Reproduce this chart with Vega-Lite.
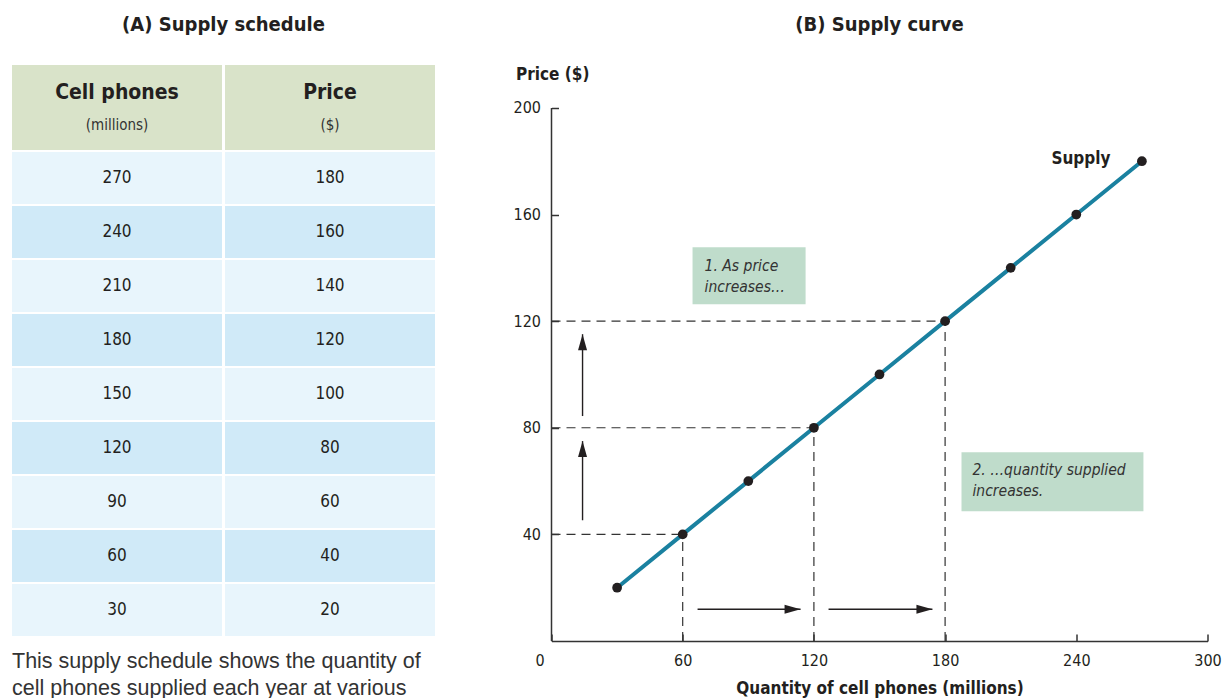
{
  "$schema": "https://vega.github.io/schema/vega-lite/v6.json",
  "background": "white",
  "padding": {"left": 12, "top": 15, "right": 0, "bottom": 0},
  "spacing": 77.5,
  "config": {
    "view": {"stroke": null},
    "font": "DejaVu Sans Condensed, DejaVu Sans, sans-serif",
    "title": {"fontSize": 20, "fontWeight": "bold", "color": "#231f20", "font": "DejaVu Sans Condensed, DejaVu Sans, sans-serif"},
    "text": {"color": "#231f20"}
  },
  "hconcat": [
    {
      "spacing": 2,
      "vconcat": [
        {
          "width": 423,
          "height": 85,
          "title": {"text": "(A) Supply schedule", "offset": 30},
          "data": {"values": [
            {"column": "Cell phones", "unit": "(millions)"},
            {"column": "Price", "unit": "($)"}
          ]},
          "encoding": {
            "x": {"field": "column", "type": "nominal", "sort": null, "axis": null,
                  "scale": {"paddingInner": 0.014, "paddingOuter": 0}}
          },
          "layer": [
            {"mark": {"type": "rect", "color": "#d9e3c9"}},
            {"mark": {"type": "text", "fontSize": 21, "fontWeight": "bold", "dy": -15},
             "encoding": {"text": {"field": "column"}}},
            {"mark": {"type": "text", "fontSize": 15, "dy": 17, "color": "#333333"},
             "encoding": {"text": {"field": "unit"}}}
          ]
        },
        {
          "width": 423,
          "height": 484,
          "title": {
            "text": ["This supply schedule shows the quantity of", "cell phones supplied each year at various"],
            "orient": "bottom", "anchor": "start", "frame": "group", "offset": 15,
            "fontSize": 21.5, "fontWeight": "normal", "font": "Liberation Sans, Arial, sans-serif",
            "color": "#333333", "lineHeight": 27
          },
          "data": {"values": [
            {"quantity": 270, "price": 180},
            {"quantity": 240, "price": 160},
            {"quantity": 210, "price": 140},
            {"quantity": 180, "price": 120},
            {"quantity": 150, "price": 100},
            {"quantity": 120, "price": 80},
            {"quantity": 90, "price": 60},
            {"quantity": 60, "price": 40},
            {"quantity": 30, "price": 20}
          ]},
          "transform": [{"fold": ["quantity", "price"], "as": ["column", "value"]}],
          "encoding": {
            "x": {"field": "column", "type": "nominal", "sort": ["quantity", "price"], "axis": null,
                  "scale": {"paddingInner": 0.014, "paddingOuter": 0}},
            "y": {"field": "quantity", "type": "ordinal", "sort": "descending", "axis": null,
                  "scale": {"paddingInner": 0.037, "paddingOuter": 0}}
          },
          "layer": [
            {"mark": {"type": "rect"},
             "encoding": {"color": {"field": "quantity", "type": "ordinal", "legend": null,
               "scale": {"domain": [270, 240, 210, 180, 150, 120, 90, 60, 30],
                         "range": ["#e8f5fc", "#d0eaf8", "#e8f5fc", "#d0eaf8", "#e8f5fc", "#d0eaf8", "#e8f5fc", "#d0eaf8", "#e8f5fc"]}}}},
            {"mark": {"type": "text", "fontSize": 17},
             "encoding": {"text": {"field": "value", "type": "quantitative"}}}
          ]
        }
      ]
    },
    {
      "width": 656,
      "height": 576,
      "title": {"text": "(B) Supply curve", "offset": 30},
      "encoding": {
        "x": {"field": "q", "type": "quantitative",
              "scale": {"domain": [0, 300], "nice": false},
              "axis": {"values": [0, 60, 120, 180, 240, 300], "title": "Quantity of cell phones (millions)",
                       "titleFontSize": 17, "titleFontWeight": "bold", "titleColor": "#231f20", "titlePadding": 12,
                       "labelFontSize": 16, "labelColor": "#231f20", "labelPadding": 18, "labelFlush": false,
                       "labelOffset": {"condition": {"test": "datum.value === 0", "value": -12}, "value": 0},
                       "tickSize": -7, "tickColor": "#333333", "tickWidth": 1.5,
                       "domainColor": "#333333", "domainWidth": 1.5, "grid": false}},
        "y": {"field": "p", "type": "quantitative",
              "scale": {"domain": [0, 216.1], "nice": false},
              "axis": {"values": [40, 80, 120, 160, 200], "title": "Price ($)", "domain": false,
                       "titleAngle": 0, "titleAlign": "left", "titleBaseline": "middle",
                       "titleX": -36, "titleY": 9,
                       "titleFontSize": 17, "titleFontWeight": "bold", "titleColor": "#231f20",
                       "labelFontSize": 16, "labelColor": "#231f20", "labelPadding": 18,
                       "tickSize": -7, "tickColor": "#333333", "tickWidth": 1.5, "grid": false}}
      },
      "layer": [
        {
          "data": {"values": [{"q": 0, "p": 0, "p2": 200}]},
          "mark": {"type": "rule", "color": "#333333", "strokeWidth": 1.5},
          "encoding": {"y2": {"field": "p2"}}
        },
        {
          "data": {"values": [
            {"q": 64.5, "q2": 116.2, "p": 126.3, "p2": 147.7},
            {"q": 187.5, "q2": 270.7, "p": 48.7, "p2": 70.8}
          ]},
          "mark": {"type": "rect", "color": "#bfdccb"},
          "encoding": {"x2": {"field": "q2"}, "y2": {"field": "p2"}}
        },
        {
          "data": {"values": [
            {"q": 0, "p": 40, "q2": 60, "p2": 40},
            {"q": 0, "p": 80, "q2": 120, "p2": 80},
            {"q": 0, "p": 120, "q2": 180, "p2": 120},
            {"q": 60, "p": 0, "q2": 60, "p2": 40},
            {"q": 120, "p": 0, "q2": 120, "p2": 80},
            {"q": 180, "p": 0, "q2": 180, "p2": 120}
          ]},
          "mark": {"type": "rule", "color": "#333333", "strokeWidth": 1.2, "strokeDash": [9, 6]},
          "encoding": {"x2": {"field": "q2"}, "y2": {"field": "p2"}}
        },
        {
          "data": {"name": "arrows", "values": [
            {"dir": "up", "q": 14.2, "p": 45.3, "q2": 14.2, "p2": 75.0},
            {"dir": "up", "q": 14.2, "p": 84.4, "q2": 14.2, "p2": 115.1},
            {"dir": "right", "q": 66.8, "p": 11.9, "q2": 113.9, "p2": 11.9},
            {"dir": "right", "q": 126.7, "p": 11.9, "q2": 174.2, "p2": 11.9}
          ]},
          "layer": [
            {
              "mark": {"type": "rule", "color": "#231f20", "strokeWidth": 1.4},
              "encoding": {"x2": {"field": "q2"}, "y2": {"field": "p2"}}
            },
            {
              "mark": {"type": "point", "filled": true, "opacity": 1, "color": "#231f20", "size": 400},
              "encoding": {
                "x": {"field": "q2", "type": "quantitative"},
                "y": {"field": "p2", "type": "quantitative"},
                "shape": {"field": "dir", "type": "nominal", "legend": null,
                          "scale": {"domain": ["up", "right"],
                                    "range": ["M0,0L0.45,1.6L-0.45,1.6Z", "M0,0L-1.6,-0.45L-1.6,0.45Z"]}}
              }
            }
          ]
        },
        {
          "data": {"name": "supply", "values": [
            {"q": 30, "p": 20},
            {"q": 60, "p": 40},
            {"q": 90, "p": 60},
            {"q": 120, "p": 80},
            {"q": 150, "p": 100},
            {"q": 180, "p": 120},
            {"q": 210, "p": 140},
            {"q": 240, "p": 160},
            {"q": 270, "p": 180}
          ]},
          "layer": [
            {"mark": {"type": "line", "color": "#1a81a0", "strokeWidth": 4}},
            {"mark": {"type": "point", "filled": true, "opacity": 1, "color": "#231f20", "size": 95}}
          ]
        },
        {
          "data": {"values": [
            {"q": 70.0, "p": 140.6, "label": "1.  As price\nincreases…"},
            {"q": 192.5, "p": 64.0, "label": "2. …quantity supplied\nincreases."}
          ]},
          "mark": {"type": "text", "align": "left", "baseline": "middle", "fontSize": 15.5, "fontStyle": "italic",
                   "lineBreak": "\n", "lineHeight": 21, "color": "#333333"},
          "encoding": {"text": {"field": "label"}}
        },
        {
          "data": {"values": [{"q": 255.6, "p": 180.7, "label": "Supply"}]},
          "mark": {"type": "text", "align": "right", "baseline": "middle", "fontSize": 17, "fontWeight": "bold"},
          "encoding": {"text": {"field": "label"}}
        }
      ]
    }
  ]
}
